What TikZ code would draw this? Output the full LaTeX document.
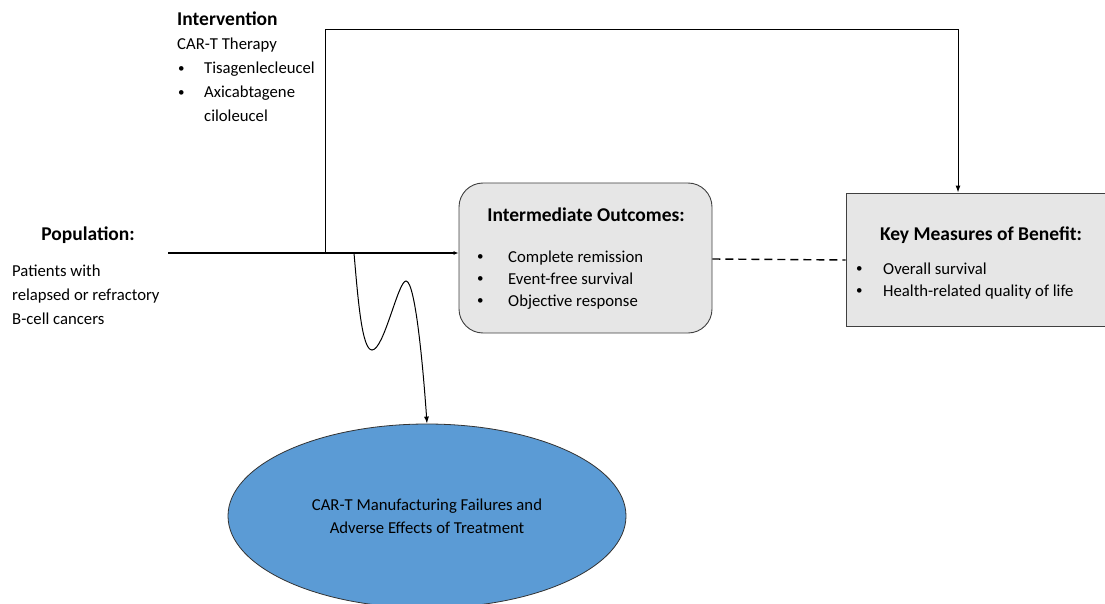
\documentclass[tikz,border=0pt]{standalone}
\usepackage{fontspec}
\setmainfont{Carlito}
\usetikzlibrary{arrows.meta,shapes.geometric}
\definecolor{boxgray}{HTML}{E6E6E6}
\definecolor{ellblue}{HTML}{5B9BD5}
\begin{document}
\begin{tikzpicture}[x=1pt,y=-1pt,
  body/.style={font=\fontsize{16.7}{24}\selectfont, inner sep=0pt, anchor=base west},
  title/.style={font=\fontsize{19.5}{24}\selectfont\bfseries, inner sep=0pt, anchor=base},
  bul/.style={font=\fontsize{13}{24}\selectfont, inner sep=0pt, anchor=base west, yshift=1.6pt},
  conn/.style={line width=1pt},
  tip/.style={-{Latex[length=7pt,width=5pt]}},
  graybox/.style={draw=black!75, line width=0.9pt, fill=boxgray}
]
\useasboundingbox (0,0) rectangle (1105,604);

% Intervention text
\node[title, anchor=base west] (intT) at (177,26) {Intervention};
\node[body] (int0) at (177,50) {CAR-T Therapy};
\node[bul] (ib1) at (178,74) {•};
\node[body] (int1) at (204,74) {Tisagenlecleucel};
\node[bul] (ib2) at (178,98) {•};
\node[body] (int2) at (204,98) {Axicabtagene};
\node[body] (int3) at (204,122) {ciloleucel};

% Population text
\node[title] (popT) at (88,240) {Population:};
\node[body] (pop1) at (12,276) {Patients with};
\node[body] (pop2) at (12,300) {relapsed or refractory};
\node[body] (pop3) at (12,324) {B-cell cancers};

% Intermediate outcomes box
\node[graybox, rounded corners=24pt, minimum width=253pt, minimum height=150pt, inner sep=0pt] (ibox) at (585.5,258) {};
\node[title] (ibT) at (586,222) {Intermediate Outcomes:};
\node[bul] (ibb1) at (477,262) {•};
\node[body] (ibt1) at (508,262) {Complete remission};
\node[bul] (ibb2) at (477,284) {•};
\node[body] (ibt2) at (508,284) {Event-free survival};
\node[bul] (ibb3) at (477,306) {•};
\node[body] (ibt3) at (508,306) {Objective response};

% Key measures box
\node[graybox, minimum width=266pt, minimum height=133pt, inner sep=0pt] (kbox) at (979,259.5) {};
\node[title] (kT) at (981,240) {Key Measures of Benefit:};
\node[bul] (kb1) at (856,274) {•};
\node[body] (kt1) at (883,274) {Overall survival};
\node[bul] (kb2) at (856,296) {•};
\node[body] (kt2) at (883,296) {Health-related quality of life};

% Harms ellipse
\node[draw=black!80, line width=0.8pt, fill=ellblue, ellipse, minimum width=398pt, minimum height=184pt, inner sep=0pt] (harm) at (427,516) {};
\node[font=\fontsize{16.7}{23}\selectfont, align=center, inner sep=0pt] (harmT) at (427,516) {CAR-T Manufacturing Failures and\\Adverse Effects of Treatment};

% Connectors
\coordinate (pstart) at (168,253);
\coordinate (split) at (325,253);
\coordinate (wstart) at (354,253);
\draw[line width=1.8pt, -{Latex[length=5pt,width=4pt]}] (pstart) -- (pstart -| ibox.west);
\draw[conn, tip] (split) -- (325,30) -| (kbox.north -| 958,0);
\draw[line width=1.4pt, dash pattern=on 8pt off 5pt] (ibox.east |- 0,259) -- (kbox.west |- 0,260);
\draw[conn, tip] (wstart) .. controls (358,300) and (362,350) .. (372,350)
  .. controls (384,350) and (398,281) .. (406,281)
  .. controls (416,281) and (424,380) .. (harm.north);
\end{tikzpicture}
\end{document}
